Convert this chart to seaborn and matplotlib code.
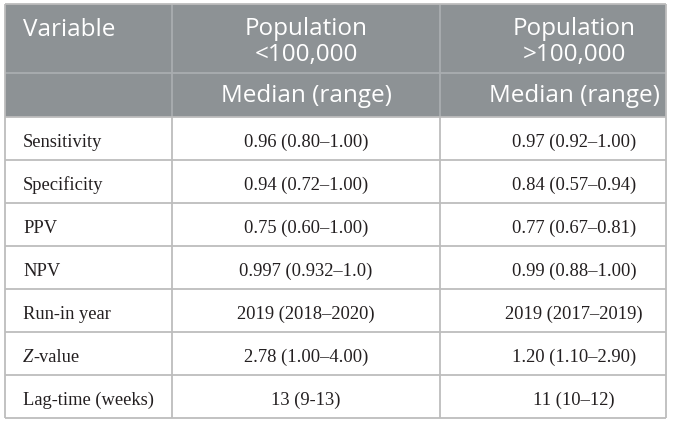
import matplotlib
matplotlib.use("Agg")
from matplotlib import pyplot as plt
from matplotlib.patches import Rectangle
import seaborn as sns

# table content
variables = ["Sensitivity", "Specificity", "PPV", "NPV", "Run-in year",
             "Z-value", "Lag-time (weeks)"]
small_pop = ["0.96 (0.80\u20131.00)", "0.94 (0.72\u20131.00)", "0.75 (0.60\u20131.00)",
             "0.997 (0.932\u20131.0)", "2019 (2018\u20132020)", "2.78 (1.00\u20134.00)",
             "13 (9-13)"]
large_pop = ["0.97 (0.92\u20131.00)", "0.84 (0.57\u20130.94)", "0.77 (0.67\u20130.81)",
             "0.99 (0.88\u20131.00)", "2019 (2017\u20132019)", "1.20 (1.10\u20132.90)",
             "11 (10\u201312)"]
header_top = ["Variable", "Population\n<100,000", "Population\n>100,000"]
header_sub = ["", "Median (range)", "Median (range)"]

HEAD_BG = "#8d9295"
HEAD_LINE = "#a9adb0"
BODY_LINE = "#bdbdbd"
TEXT = "#231f20"
HEAD_FONT = "Open Sans"
BODY_FONT = "Liberation Serif"
HEAD_SIZE = 17.5
BODY_SIZE = 13.3


def draw_table():
    sns.set_theme(style="white")
    fig = plt.figure(figsize=(6.73, 4.24), dpi=100)
    ax = fig.add_axes([0, 0, 1, 1])
    ax.set_xlim(0, 673)
    ax.set_ylim(424, 0)
    ax.axis("off")

    left, right, top = 5, 666, 4
    col_x = [left, 172, 440, right]
    head_mid, head_bot = 73, 117
    row_h = 43
    bottom = head_bot + row_h * len(variables)

    # header background and inner lines
    ax.add_patch(Rectangle((left, top), right - left, head_bot - top,
                           facecolor=HEAD_BG, edgecolor="none"))
    ax.hlines(head_mid, left, right, color=HEAD_LINE, lw=1.3)
    ax.vlines(col_x[1:3], top, head_bot, color=HEAD_LINE, lw=1.3)

    # body grid
    for i in range(len(variables) + 1):
        ax.hlines(head_bot + row_h * i, left, right, color=BODY_LINE, lw=1.3)
    ax.vlines(col_x[1:3], head_bot, bottom, color=BODY_LINE, lw=1.3)
    ax.vlines([left, right], top, bottom, color=BODY_LINE, lw=1.3)
    ax.hlines(top, left, right, color=BODY_LINE, lw=1.3)

    # header text
    centers = [23, 306, 574]
    ax.text(centers[0], 36, header_top[0], ha="left", va="baseline",
            color="white", fontsize=HEAD_SIZE, family=HEAD_FONT)
    for c, txt, sub in zip(centers[1:], header_top[1:], header_sub[1:]):
        line1, line2 = txt.split("\n")
        ax.text(c, 35, line1, ha="center", va="baseline", color="white",
                fontsize=HEAD_SIZE, family=HEAD_FONT)
        ax.text(c, 61, line2, ha="center", va="baseline", color="white",
                fontsize=HEAD_SIZE, family=HEAD_FONT)
        ax.text(c, 102, sub, ha="center", va="baseline", color="white",
                fontsize=HEAD_SIZE, family=HEAD_FONT)

    # body text
    fig.canvas.draw()
    renderer = fig.canvas.get_renderer()
    for i, (var, a, b) in enumerate(zip(variables, small_pop, large_pop)):
        y = 147 + row_h * i
        if var.startswith("Z-"):
            z = ax.text(centers[0], y, "Z", ha="left", va="baseline", color=TEXT,
                        fontsize=BODY_SIZE, family=BODY_FONT, style="italic")
            bb = z.get_window_extent(renderer)
            x_end = ax.transData.inverted().transform((bb.x1, bb.y0))[0]
            ax.text(x_end, y, var[1:], ha="left", va="baseline", color=TEXT,
                    fontsize=BODY_SIZE, family=BODY_FONT)
        else:
            ax.text(centers[0], y, var, ha="left", va="baseline", color=TEXT,
                    fontsize=BODY_SIZE, family=BODY_FONT)
        ax.text(centers[1], y, a, ha="center", va="baseline", color=TEXT,
                fontsize=BODY_SIZE, family=BODY_FONT)
        ax.text(centers[2], y, b, ha="center", va="baseline", color=TEXT,
                fontsize=BODY_SIZE, family=BODY_FONT)

    fig.savefig("out.png", dpi=100, facecolor="white")


def main():
    draw_table()


if __name__ == "__main__":
    main()
